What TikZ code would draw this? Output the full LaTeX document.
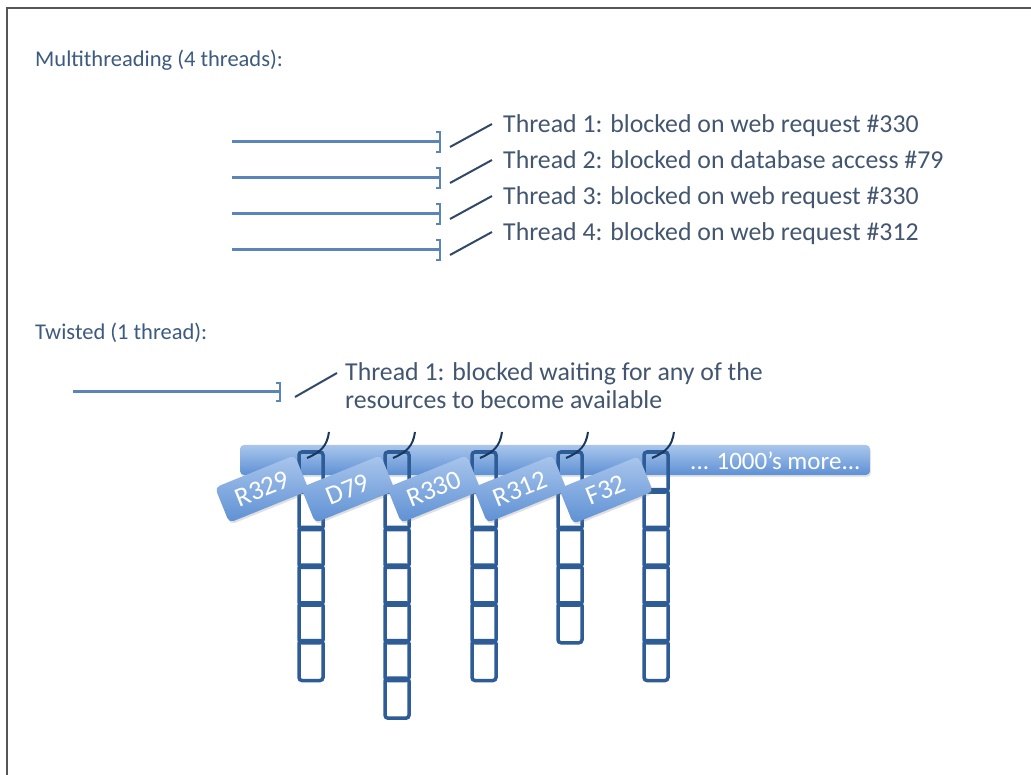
\documentclass[tikz,border=0pt]{standalone}
\usepackage{fontspec}
\setmainfont{Carlito}
\usepackage{tikz}
\usetikzlibrary{positioning, calc, shadows}
\definecolor{headblue}{HTML}{3D5A80}
\definecolor{threadtxt}{HTML}{435670}
\definecolor{lineblue}{HTML}{5B84B8}
\definecolor{chainblue}{HTML}{2D5C97}
\definecolor{bartop}{HTML}{A9C6EC}
\definecolor{barbot}{HTML}{5E90D4}
\definecolor{framegray}{HTML}{555555}
\tikzstyle{heading} = [anchor=base west, inner sep=0pt, text=headblue, font=\fontsize{22.5}{26}\selectfont]
\tikzstyle{threadlabel} = [anchor=base west, inner sep=0pt, text=threadtxt, font=\fontsize{25.8}{28}\selectfont, align=left]
\tikzstyle{thread} = [line width=3pt, draw=lineblue]
\tikzstyle{blocked} = [line width=2.5pt, draw=lineblue]
\tikzstyle{wire} = [line width=2pt, draw=headblue!80!black]
\tikzstyle{link} = [line width=3.5pt, draw=chainblue, rounded corners=3pt]
\tikzstyle{hook} = [line width=2pt, draw=chainblue!60!black]
\tikzstyle{resbar} = [rectangle, rounded corners=4pt, minimum width=630pt, minimum height=30pt, top color=bartop, bottom color=barbot, draw=none, drop shadow={opacity=0.2, shadow xshift=1pt, shadow yshift=-2pt}]
\tikzstyle{tag} = [rectangle, rounded corners=5pt, minimum width=86pt, minimum height=38pt, top color=bartop, bottom color=barbot, text=white, font=\fontsize{27}{30}\selectfont, inner sep=0pt, drop shadow={opacity=0.25, shadow xshift=1pt, shadow yshift=-2pt}]

\begin{document}
\begin{tikzpicture}[x=1pt, y=-1pt]
      \useasboundingbox (0,0) rectangle (1031,775);
      \fill[white] (0,0) rectangle (1031,775);
      % cadre
      \draw[framegray, line width=2.5pt] (7,775) -- (7,8) -- (1031,8);

      % Multithreading
      \node[heading] (mthead) at (35,67) {Multithreading (4 threads):};
      \foreach \i/\y/\txt in {1/142/{Thread 1: blocked on web request \#330},
                              2/178/{Thread 2: blocked on database access \#79},
                              3/214/{Thread 3: blocked on web request \#330},
                              4/250/{Thread 4: blocked on web request \#312}} {
        \coordinate (ts\i) at (232,\y);
        \coordinate (te\i) at (440,\y);
        \node[threadlabel] (tl\i) at (503,\y-9) {\txt};
        \draw[thread] (ts\i) -- (te\i);
        \draw[blocked] ($(te\i)+(-4,-10)$) -- ($(te\i)+(0,-10)$) -- ($(te\i)+(0,10)$) -- ($(te\i)+(-4,10)$);
        \draw[wire] ($(te\i)+(10,5)$) -- ($(te\i)+(52,-18)$);
      }

      % Twisted
      \node[heading] (twhead) at (35,340) {Twisted (1 thread):};
      \coordinate (tws) at (73,392);
      \coordinate (twe) at (280,392);
      \node[threadlabel] (twl) at (345,409) {Thread 1: blocked waiting for any of the\\[0.5pt]resources to become available};
      \draw[thread] (tws) -- (twe);
      \draw[blocked] ($(twe)+(-4,-9)$) -- ($(twe)+(0,-9)$) -- ($(twe)+(0,9)$) -- ($(twe)+(-4,9)$);
      \draw[wire] ($(twe)+(15,5)$) -- ($(twe)+(57,-19)$);

      % barre des ressources
      \node[resbar] (bar) at (555,460) {};
      \node[anchor=base west, inner sep=0pt, text=white, font=\fontsize{25}{28}\selectfont] (more) at (690,469) {... 1000’s more...};

      % chaines
      \foreach \cx/\n in {311/6, 397/7, 484/6, 570/5, 656/6} {
        \foreach \k in {1,...,\n} {
          \draw[link] ({\cx-12},{452+37.7*(\k-1)}) rectangle ++(24,40);
        }
        \draw[hook] ({\cx-4},458) .. controls ({\cx+10},452) and ({\cx+16},446) .. ({\cx+18},432);
      }

      % etiquettes
      \node[tag, rotate=22] (r329) at (262,489) {R329};
      \node[tag, rotate=22] (d79) at (348,489) {D79};
      \node[tag, rotate=22] (r330) at (434,489) {R330};
      \node[tag, rotate=22] (r312) at (520,489) {R312};
      \node[tag, rotate=22] (f32) at (606,490) {F32};
    \end{tikzpicture}
\end{document}
